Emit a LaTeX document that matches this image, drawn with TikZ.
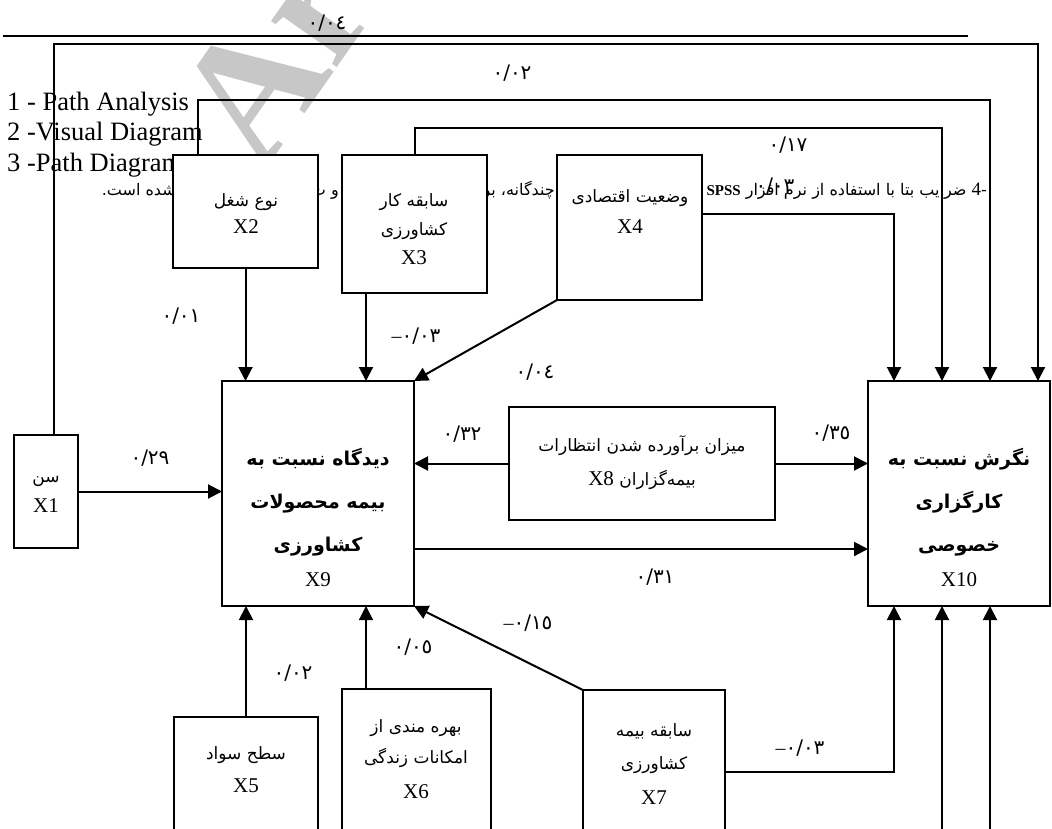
\documentclass[tikz,border=0pt]{standalone}
\usepackage{fontspec}
\setmainfont{Liberation Serif}
\newfontfamily\arabicfont[Script=Arabic]{DejaVu Sans}
\usetikzlibrary{arrows.meta}
\TeXXeTstate=1
\newcommand{\fa}[1]{{\arabicfont\beginR #1\endR}}
\newcommand{\mneg}{{\rmfamily\fontsize{20}{20}\selectfont –}}
\tikzset{
  box/.style={draw, line width=2pt, fill=white, inner sep=0pt, outer sep=0pt},
  conn/.style={line width=2pt, -{Triangle[length=14pt,width=14pt]}},
  thinconn/.style={line width=1.3pt, -{Triangle[length=14pt,width=14pt]}},
  plain/.style={line width=2pt},
  coef/.style={font=\arabicfont\fontsize{20}{20}\selectfont, inner sep=0pt},
  fatxt/.style={anchor=base, inner sep=0pt, font=\arabicfont\fontsize{17}{17}\selectfont},
  bftxt/.style={anchor=base, inner sep=0pt, font=\arabicfont\bfseries\fontsize{19}{19}\selectfont},
  latxt/.style={anchor=base, inner sep=0pt, font=\fontsize{21}{21}\selectfont},
  foot/.style={anchor=base east, inner sep=0pt, font=\arabicfont\fontsize{16}{16}\selectfont},
  eng/.style={anchor=base west, inner sep=0pt, font=\fontsize{26.5}{26.5}\selectfont},
}
\begin{document}
\begin{tikzpicture}[x=1pt,y=-1pt]
\useasboundingbox (0,0) rectangle (1052,828);
\clip (0,0) rectangle (1052,828);
% watermark
\node[anchor=base west, rotate=55, inner sep=0pt, text=black!22, font=\bfseries\fontsize{175}{175}\selectfont] (wm) at (262,175) {Archive of SID};
% footnote fragments and english notes
\node[foot] (f1) at (987,195) {\beginR\beginL{\rmfamily\fontsize{19}{19}\selectfont 4}-\endL\ ضرایب بتا با استفاده از نرم افزار \beginL{\rmfamily\bfseries\fontsize{15}{15}\selectfont SPSS}\endL\endR};
\node[foot] (f2) at (555,195) {\beginR چندگانه، بر\endR};
\node[foot] (f3) at (339,195) {\beginR و ت\endR};
\node[foot] (f4) at (176,195) {\beginR شده است.\endR};
\node[eng] (e1) at (7,110) {1 - Path Analysis};
\node[eng] (e2) at (7,140) {2 -Visual Diagram};
\node[eng] (e3) at (7,171) {3 -Path Diagram};
% top rule
\coordinate (r1) at (3,36);
\coordinate (r2) at (968,36);
\draw[plain] (r1) -- (r2);
% boxes
\node[box, minimum width=64, minimum height=113] (x1) at (46,491.5) {};
\node[box, minimum width=145, minimum height=113] (x2) at (245.5,211.5) {};
\node[box, minimum width=145, minimum height=138] (x3) at (414.5,224) {};
\node[box, minimum width=145, minimum height=145] (x4) at (629.5,227.5) {};
\node[box, minimum width=192, minimum height=225] (x9) at (318,493.5) {};
\node[box, minimum width=266, minimum height=113] (x8) at (642,463.5) {};
\node[box, minimum width=182, minimum height=225] (x10) at (959,493.5) {};
\node[box, minimum width=144, minimum height=133] (x5) at (246,783.5) {};
\node[box, minimum width=149, minimum height=161] (x6) at (416.5,769.5) {};
\node[box, minimum width=142, minimum height=160] (x7) at (654,770) {};
% box texts
\node[fatxt] (t1a) at (46,482) {\fa{سن}};
\node[latxt] (t1b) at (46,512) {X1};
\node[fatxt] (t2a) at (246,206) {\fa{نوع شغل}};
\node[latxt] (t2b) at (246,233) {X2};
\node[fatxt] (t3a) at (414,206) {\fa{سابقه کار}};
\node[fatxt] (t3b) at (414,235) {\fa{کشاورزی}};
\node[latxt] (t3c) at (414,264) {X3};
\node[fatxt] (t4a) at (630,202) {\fa{وضعیت اقتصادی}};
\node[latxt] (t4b) at (630,233) {X4};
\node[bftxt] (t9a) at (318,465) {\fa{دیدگاه نسبت به}};
\node[bftxt] (t9b) at (318,508) {\fa{بیمه محصولات}};
\node[bftxt] (t9c) at (318,551) {\fa{کشاورزی}};
\node[latxt] (t9d) at (318,586) {X9};
\node[bftxt] (t10a) at (959,465) {\fa{نگرش نسبت به}};
\node[bftxt] (t10b) at (959,508) {\fa{کارگزاری}};
\node[bftxt] (t10c) at (959,551) {\fa{خصوصی}};
\node[latxt] (t10d) at (959,586) {X10};
\node[fatxt] (t8a) at (642,451) {\fa{میزان برآورده شدن انتظارات}};
\node[fatxt] (t8b) at (642,485) {\fa{بیمه‌گزاران \beginL{\rmfamily\fontsize{21}{21}\selectfont X8}\endL}};
\node[fatxt] (t5a) at (246,759) {\fa{سطح سواد}};
\node[latxt] (t5b) at (246,792) {X5};
\node[fatxt] (t6a) at (416,732) {\fa{بهره مندی از}};
\node[fatxt] (t6b) at (416,763) {\fa{امکانات زندگی}};
\node[latxt] (t6c) at (416,798) {X6};
\node[fatxt] (t7a) at (654,736) {\fa{سابقه بیمه}};
\node[fatxt] (t7b) at (654,769) {\fa{کشاورزی}};
\node[latxt] (t7c) at (654,804) {X7};
% connectors to X10 from above
\draw[conn] ([xshift=8]x1.north) |- (300,44) -| ([xshift=79]x10.north);
\draw[conn] ([xshift=-47.5]x2.north) |- (600,100) -| ([xshift=31]x10.north);
\draw[conn] (x3.north) |- (700,128) -| ([xshift=-17]x10.north);
\draw[conn] ([yshift=13.5]x4.east) -| ([xshift=-65]x10.north);
% connectors into X9
\draw[conn] (x2.south) -- (x2.south |- x9.north);
\draw[conn] ([xshift=-48.5]x3.south) -- ([xshift=-48.5]x3.south |- x9.north);
\draw[conn] (x4.south west) -- (x9.north east);
\draw[conn] (x1.east) -- (x1.east -| x9.west);
\draw[conn] (x8.west) -- (x8.west -| x9.east);
\draw[conn] (x5.north) -- (x5.north |- x9.south);
\draw[thinconn] ([xshift=-50.5]x6.north) -- ([xshift=-50.5]x6.north |- x9.south);
\draw[conn] (x7.north west) -- (x9.south east);
% connectors into X10
\draw[conn] (x8.east) -- (x8.east -| x10.west);
\draw[conn] ([yshift=-55.5]x9.east) -- ([yshift=-55.5]x9.east -| x10.west);
\draw[conn] ([yshift=-2]x7.east) -| ([xshift=-65]x10.south);
\coordinate (b1) at (942,840);
\coordinate (b2) at (990,840);
\draw[conn] (b1) -- (b1 |- x10.south);
\draw[conn] (b2) -- (b2 |- x10.south);
% coefficients
\node[coef] (c1) at (327,23) {٠/٠٤};
\node[coef] (c2) at (512,73) {٠/٠٢};
\node[coef] (c3) at (788,145) {٠/١٧};
\node[coef] (c4) at (775,186) {٠/٠٣};
\node[coef] (c5) at (181,316) {٠/٠١};
\node[coef] (c6) at (416,336) {\mneg٠/٠٣};
\node[coef] (c7) at (535,372) {٠/٠٤};
\node[coef] (c8) at (150,458) {٠/٢٩};
\node[coef] (c9) at (462,434) {٠/٣٢};
\node[coef] (c10) at (831,433) {٠/٣٥};
\node[coef] (c11) at (655,577) {٠/٣١};
\node[coef] (c12) at (528,623) {\mneg٠/١٥};
\node[coef] (c13) at (413,647) {٠/٠٥};
\node[coef] (c14) at (293,673) {٠/٠٢};
\node[coef] (c15) at (800,748) {\mneg٠/٠٣};
\end{tikzpicture}
\end{document}
